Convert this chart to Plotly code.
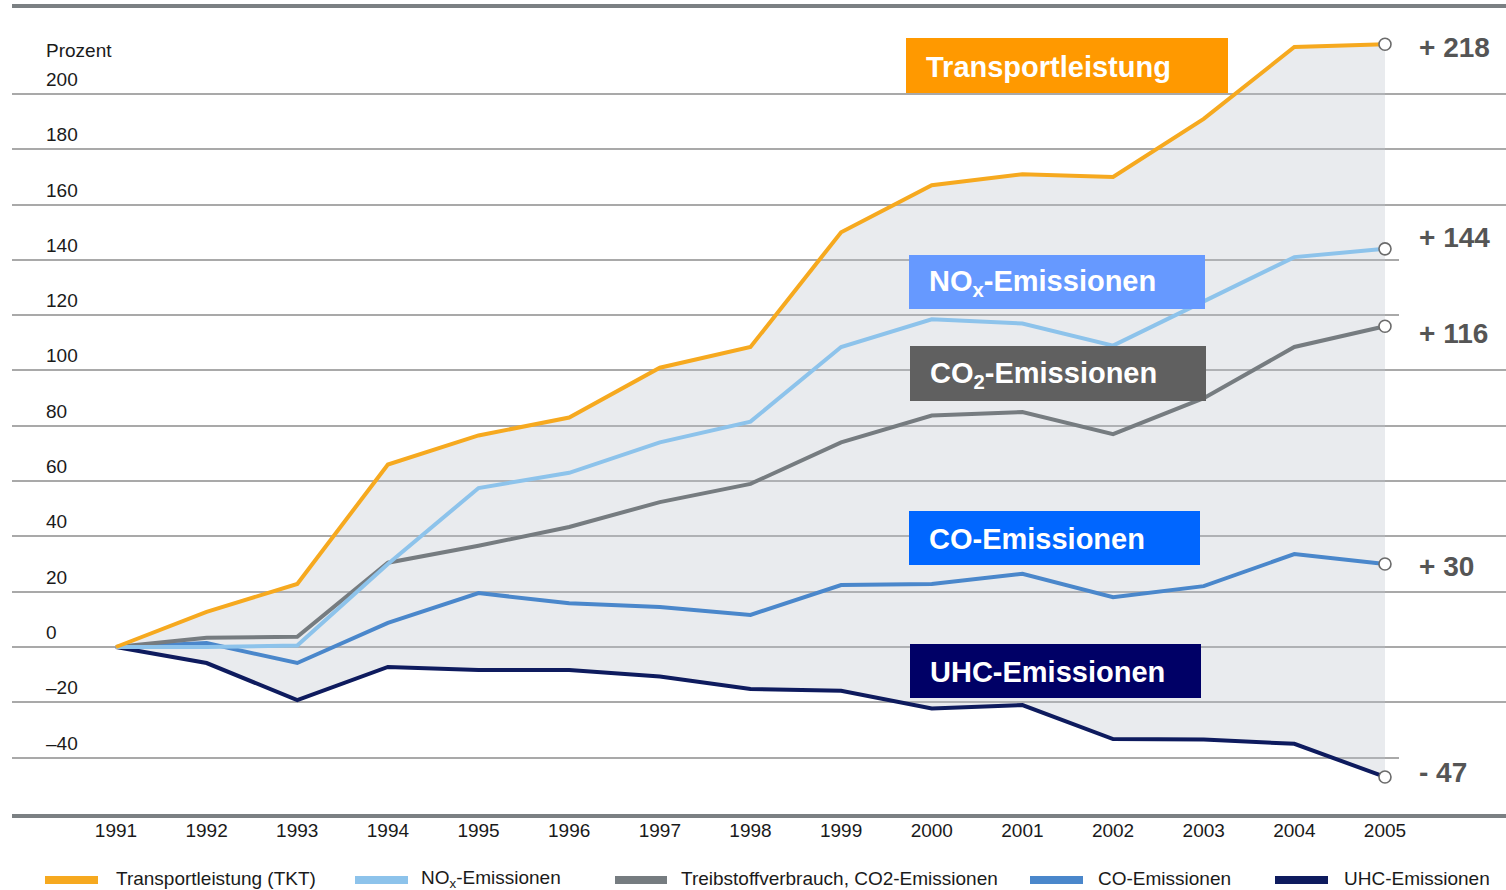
import plotly.graph_objects as go

# ---- data (percent change relative to 1991) ----
years = list(range(1991, 2006))
transport = [0, 12.7, 22.8, 66, 76.5, 83, 101, 108.5, 150, 167, 171, 170, 191, 217, 218]
nox = [0, 0, 0.5, 30, 57.5, 63, 74, 81.5, 108.5, 118.5, 117, 109, 125, 141, 144]
co2 = [0, 3.3, 3.7, 30.5, 36.6, 43.4, 52.4, 59, 74, 83.7, 85, 77, 90, 108.5, 116]
co = [0, 1.4, -5.8, 8.7, 19.5, 15.8, 14.5, 11.6, 22.4, 22.8, 26.5, 18, 22, 33.6, 30]
uhc = [0, -5.8, -19.2, -7.2, -8.3, -8.3, -10.7, -15.2, -15.8, -22.2, -21, -33.3, -33.5, -35, -47]

y_ticks = [200, 180, 160, 140, 120, 100, 80, 60, 40, 20, 0, -20, -40]
y_tick_text = ["200", "180", "160", "140", "120", "100", "80", "60", "40", "20", "0", "–20", "–40"]

legend_names = ["Transportleistung (TKT)", "NO<sub>x</sub>-Emissionen",
                "Treibstoffverbrauch, CO2-Emissionen", "CO-Emissionen", "UHC-Emissionen"]
box_labels = ["Transportleistung", "NO<sub>x</sub>-Emissionen", "CO<sub>2</sub>-Emissionen",
              "CO-Emissionen", "UHC-Emissionen"]
end_labels = ["+ 218", "+ 144", "+ 116", "+ 30", "- 47"]

series = [transport, nox, co2, co, uhc]
line_colors = ["#F6A91F", "#8DC3EB", "#767C80", "#4A87CB", "#0E1B5E"]
box_colors = ["#FF9900", "#6699FF", "#606060", "#0066FF", "#000066"]
# vertical nudge (px, positive = up) of each end-value label relative to its end point
end_label_nudge = [-3, 11, -7, -2, 4]

W, H = 1506, 890
L, R, T, B = 12, 0, 8, 76
PW, PH = W - L - R, H - T - B

def px_x(px):
    return (px - L) / PW

def px_y(py):
    return (H - B - py) / PH

FONT = "Liberation Sans, Arial, Helvetica, sans-serif"

fig = go.Figure()

# shaded band between the highest and the lowest series
fig.add_trace(go.Scatter(
    x=years + years[::-1], y=transport + uhc[::-1],
    fill="toself", fillcolor="rgba(188,194,202,0.33)",
    line=dict(width=0), mode="lines", hoverinfo="skip", showlegend=False))

# series lines, lowest first so the upper ones sit on top
for vals, col, name in reversed(list(zip(series, line_colors, legend_names))):
    fig.add_trace(go.Scatter(x=years, y=vals, mode="lines", name=name,
                             line=dict(color=col, width=4), showlegend=False))

# open circles at the 2005 end points
fig.add_trace(go.Scatter(
    x=[years[-1]] * len(series), y=[s[-1] for s in series], mode="markers",
    marker=dict(size=12, color="white", line=dict(color="#6b6b6b", width=1.6)),
    showlegend=False, hoverinfo="skip"))

shapes = []
annotations = []

# white backing behind the end-value labels (hides the grid there)
for vals, txt, dy in zip(series, end_labels, end_label_nudge):
    shapes.append(dict(type="rect", layer="above", xref="paper", yref="y",
                       x0=px_x(1399), x1=1.0, ysizemode="pixel", yanchor=vals[-1],
                       y0=dy - 24, y1=dy + 24, fillcolor="white", line=dict(width=0)))
    annotations.append(dict(x=years[-1], y=vals[-1], xref="x", yref="y",
                            text=txt, showarrow=False, xanchor="left", yanchor="middle",
                            xshift=32, yshift=dy,
                            font=dict(family=FONT, size=28, color="#555555", weight="bold")))

# coloured name boxes
box_px = [(906, 1228, 38, 93), (909, 1205, 255, 309), (910, 1206, 346, 401),
          (909, 1200, 511, 565), (910, 1201, 644, 698)]
for (x0, x1, y0, y1), col, txt in zip(box_px, box_colors, box_labels):
    shapes.append(dict(type="rect", layer="above", xref="paper", yref="paper",
                       x0=px_x(x0), x1=px_x(x1), y0=px_y(y1), y1=px_y(y0),
                       fillcolor=col, line=dict(width=0)))
    annotations.append(dict(x=px_x(x0 + 18), y=px_y((y0 + y1) / 2 + 1), xref="paper", yref="paper",
                            text=txt, showarrow=False, xanchor="left", yanchor="middle",
                            font=dict(family=FONT, size=29, color="white", weight="bold")))

# y tick labels sitting above their grid lines
for v, t in zip(y_ticks, y_tick_text):
    annotations.append(dict(x=px_x(44), y=v, xref="paper", yref="y", text=t,
                            showarrow=False, xanchor="left", yanchor="bottom", yshift=2,
                            font=dict(family=FONT, size=19, color="#1a1a1a")))
annotations.append(dict(x=px_x(44), y=px_y(50), xref="paper", yref="paper", text="Prozent",
                        showarrow=False, xanchor="left", yanchor="middle",
                        font=dict(family=FONT, size=19, color="#1a1a1a")))

# legend row along the bottom
swatch_px = [(45, 98), (355, 408), (615, 667), (1030, 1083), (1275, 1328)]
text_px = [114, 419, 679, 1096, 1342]
for (s0, s1), tx, col, name in zip(swatch_px, text_px, line_colors, legend_names):
    shapes.append(dict(type="line", xref="paper", yref="paper",
                       x0=px_x(s0), x1=px_x(s1), y0=px_y(880), y1=px_y(880),
                       line=dict(color=col, width=8)))
    annotations.append(dict(x=px_x(tx), y=px_y(879), xref="paper", yref="paper", text=name,
                            showarrow=False, xanchor="left", yanchor="middle",
                            font=dict(family=FONT, size=19, color="#1a1a1a")))

fig.update_layout(
    width=W, height=H,
    margin=dict(l=L, r=R, t=T, b=B, pad=0),
    paper_bgcolor="white", plot_bgcolor="white",
    showlegend=False,
    shapes=shapes, annotations=annotations,
    xaxis=dict(range=[1989.853, 2006.335], tickvals=years, ticktext=[str(y) for y in years],
               showgrid=False, zeroline=False, showline=True, linecolor="#7b8083",
               linewidth=4, mirror=True, ticks="", ticklabelstandoff=-4,
               tickfont=dict(family=FONT, size=19, color="#1a1a1a")),
    yaxis=dict(range=[-60.4, 231.1], tickvals=y_ticks, showticklabels=False,
               showgrid=True, gridcolor="#a9a9a9", gridwidth=2, zeroline=False,
               showline=False, ticks=""),
)

fig.write_html("out.html")
